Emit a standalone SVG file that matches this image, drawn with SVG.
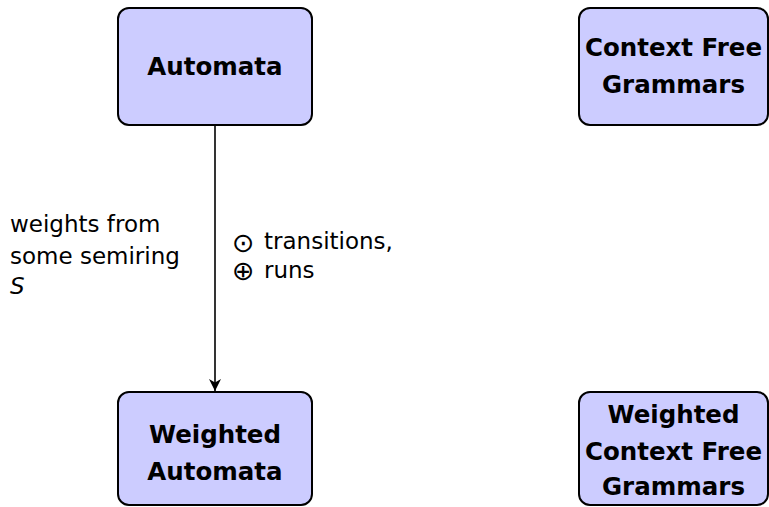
<svg xmlns="http://www.w3.org/2000/svg" width="769" height="507" viewBox="0 0 769 507">
  <style>
    .box { fill: #ccccff; stroke: #000; stroke-width: 2; }
    .title { font-family: "DejaVu Sans", sans-serif; font-weight: bold; font-size: 24.5px; text-anchor: middle; fill: #000; }
    .lbl { font-family: "DejaVu Sans", sans-serif; font-size: 23px; fill: #000; }
    .sym { font-family: "DejaVu Sans", sans-serif; font-size: 27px; fill: #000; }
    .edge { stroke: #000; stroke-width: 1.6; fill: none; }
  </style>
  <defs>
    <marker id="arrow" markerWidth="14" markerHeight="14" refX="12" refY="6" orient="auto" markerUnits="userSpaceOnUse">
      <path d="M0,0 L12,6 L0,12 L3.5,6 Z" fill="#000"/>
    </marker>
  </defs>
  <rect width="769" height="507" fill="#fff"/>

  <g id="connectors">
    <line class="edge" x1="215" y1="125" x2="215" y2="391" marker-end="url(#arrow)"/>
    <text class="lbl" x="10" y="232">weights from</text>
    <text class="lbl" x="10" y="264">some semiring</text>
    <text class="lbl" x="10" y="294" font-style="italic">S</text>
    <text class="sym" x="232" y="252">⊙</text>
    <text class="lbl" x="264" y="249">transitions,</text>
    <text class="sym" x="232" y="280">⊕</text>
    <text class="lbl" x="264" y="278">runs</text>
  </g>

  <g id="automata">
    <rect class="box" x="118" y="8" width="194" height="117" rx="11"/>
    <text class="title" x="215" y="75">Automata</text>
  </g>

  <g id="cfg">
    <rect class="box" x="579" y="8" width="189" height="117" rx="11"/>
    <text class="title" x="673.5" y="56">Context Free</text>
    <text class="title" x="673.5" y="93">Grammars</text>
  </g>

  <g id="weighted-automata">
    <rect class="box" x="118" y="392" width="194" height="113" rx="11"/>
    <text class="title" x="215" y="443">Weighted</text>
    <text class="title" x="215" y="480">Automata</text>
  </g>

  <g id="weighted-cfg">
    <rect class="box" x="579" y="392" width="189" height="113" rx="11"/>
    <text class="title" x="673.5" y="423">Weighted</text>
    <text class="title" x="673.5" y="460">Context Free</text>
    <text class="title" x="673.5" y="495">Grammars</text>
  </g>
</svg>
